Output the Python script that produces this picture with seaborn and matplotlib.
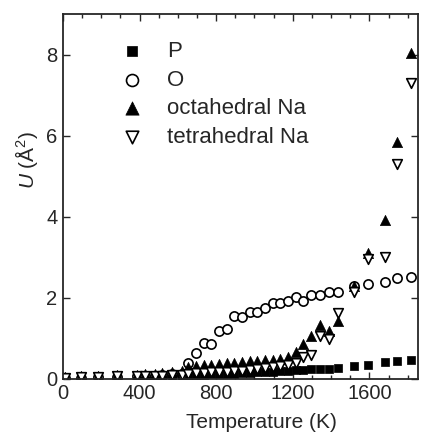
import matplotlib
matplotlib.use("Agg")
import matplotlib.pyplot as plt
from matplotlib.ticker import MultipleLocator
import pandas as pd
import seaborn as sns

# temperatures (K) shared by all four species
T_K = [10, 95, 185, 280, 385, 430, 480, 520, 570, 620,
       655, 695, 735, 775, 815, 855, 895, 935, 975, 1015,
       1055, 1095, 1135, 1175, 1215, 1255, 1295, 1340, 1390, 1435,
       1520, 1595, 1680, 1745, 1820]

# mean-square displacement U (A^2)
U_P = [0.02, 0.03, 0.04, 0.04, 0.05, 0.05, 0.06, 0.06, 0.07, 0.08,
       0.09, 0.10, 0.10, 0.11, 0.12, 0.12, 0.13, 0.14, 0.15, 0.16,
       0.17, 0.18, 0.19, 0.20, 0.21, 0.22, 0.23, 0.24, 0.25, 0.27,
       0.31, 0.34, 0.41, 0.44, 0.46]
U_O = [0.02, 0.03, 0.04, 0.05, 0.06, 0.07, 0.08, 0.09, 0.11, 0.13,
       0.38, 0.63, 0.88, 0.85, 1.17, 1.22, 1.54, 1.52, 1.66, 1.64,
       1.74, 1.86, 1.88, 1.93, 2.01, 1.93, 2.08, 2.08, 2.15, 2.15,
       2.30, 2.35, 2.40, 2.50, 2.52]
U_OCT = [0.04, 0.07, 0.08, 0.09, 0.10, 0.11, 0.12, 0.14, 0.16, 0.20,
         0.30, 0.32, 0.34, 0.35, 0.37, 0.38, 0.40, 0.41, 0.43, 0.44,
         0.46, 0.47, 0.49, 0.55, 0.65, 0.85, 1.05, 1.32, 1.17, 1.42,
         2.30, 3.10, 3.92, 5.84, 8.05]
U_TET = [0.02, 0.04, 0.05, 0.06, 0.06, 0.07, 0.07, 0.08, 0.09, 0.10,
         0.13, 0.14, 0.15, 0.16, 0.17, 0.18, 0.19, 0.20, 0.22, 0.24,
         0.26, 0.28, 0.31, 0.35, 0.40, 0.55, 0.58, 1.05, 0.98, 1.62,
         2.15, 2.95, 3.00, 5.30, 7.30]

LABELS = ["P", "O", "octahedral Na", "tetrahedral Na"]


def main():
    sns.set_theme(style="ticks")
    plt.rcParams["font.family"] = ["Liberation Sans", "DejaVu Sans"]
    plt.rcParams["mathtext.fontset"] = "custom"
    plt.rcParams["mathtext.rm"] = "Liberation Sans"
    plt.rcParams["mathtext.it"] = "Liberation Sans:italic"

    df = pd.DataFrame({"T": T_K, "P": U_P, "O": U_O,
                       "octahedral Na": U_OCT, "tetrahedral Na": U_TET})

    fig, ax = plt.subplots(figsize=(4.25, 4.41), dpi=100)
    fig.subplots_adjust(left=0.148, right=0.984, bottom=0.141, top=0.968)

    styles = {
        "P": dict(marker="s", s=30, color="black", edgecolor="black", linewidth=0.5),
        "O": dict(marker="o", s=44, facecolor="white", edgecolor="black", linewidth=1.2),
        "octahedral Na": dict(marker="^", s=54, color="black", edgecolor="black", linewidth=0.5),
        "tetrahedral Na": dict(marker="v", s=48, facecolor="white", edgecolor="black", linewidth=1.2),
    }
    for name in LABELS:
        sns.scatterplot(data=df, x="T", y=name, ax=ax, label=name, **styles[name])

    ax.set_xlim(0, 1855)
    ax.set_ylim(0, 9)
    ax.xaxis.set_major_locator(MultipleLocator(400))
    ax.xaxis.set_minor_locator(MultipleLocator(100))
    ax.yaxis.set_major_locator(MultipleLocator(2))
    ax.tick_params(which="both", direction="in", top=True, right=True,
                   labelsize=14.5, width=1.0)
    ax.tick_params(which="major", length=5, pad=4)
    ax.tick_params(which="minor", length=3)
    for sp in ax.spines.values():
        sp.set_linewidth(1.3)

    ax.set_xlabel("Temperature (K)", fontsize=15)
    ax.set_ylabel(r"$U$ (Å$^2$)", fontsize=15)
    ax.xaxis.set_label_coords(0.56, -0.095)
    ax.yaxis.set_label_coords(-0.065, 0.6)

    ax.legend(loc="upper left", bbox_to_anchor=(0.113, 0.975), frameon=False,
              fontsize=16, markerscale=1.3, handletextpad=1.1,
              labelspacing=0.34, handlelength=1.0, borderpad=0.3)

    fig.savefig("out.png", dpi=100)


if __name__ == "__main__":
    main()
